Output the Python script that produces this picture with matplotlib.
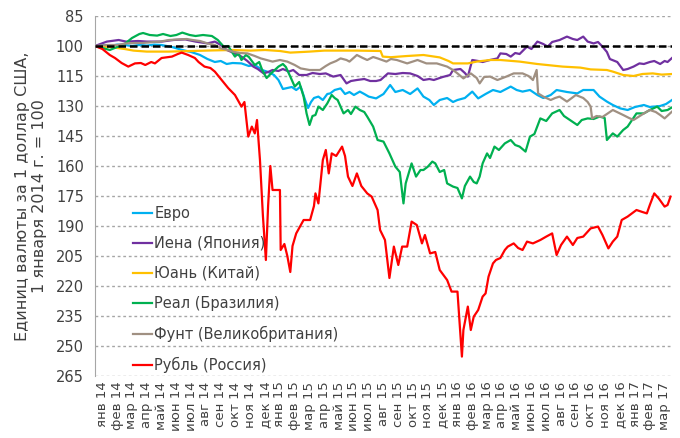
import matplotlib
matplotlib.use("Agg")
import matplotlib.pyplot as plt

# month positions (months since 1 Jan 2014) and index values, 1 Jan 2014 = 100
euro_t = [0, 0.5, 1, 1.5, 2, 2.5, 3, 3.5, 4, 4.5, 5.2, 5.9, 6.5, 7.1, 7.6, 8.1, 8.5, 8.9, 9.3, 9.9,
          10.4, 10.8, 11.3, 11.7, 12.1, 12.4, 12.7, 13.0, 13.3, 13.6, 13.9, 14.2, 14.4, 14.6, 14.8,
          15.1, 15.4, 15.7, 15.9, 16.2, 16.6, 16.9, 17.2, 17.5, 17.9, 18.2, 18.5, 19.0, 19.5, 19.95,
          20.3, 20.8, 21.3, 21.8, 22.2, 22.6, 22.9, 23.3, 23.8, 24.2, 24.5, 25.0, 25.5, 25.9, 26.4,
          26.9, 27.4, 28.1, 28.5, 28.9, 29.4, 29.9, 30.3, 30.8, 31.2, 31.9, 32.6, 33.0, 33.7, 34.1,
          34.6, 35.0, 35.5, 36.0, 36.5, 37.1, 37.5, 38.2, 38.6, 39]
euro_v = [100, 99.5, 100, 99.3, 99.5, 100, 99.5, 99.8, 99.3, 99.5, 100.5, 102, 103, 104.5, 106.5,
          108, 107.5, 109, 108.5, 108.7, 110, 109.5, 112, 113, 114.5, 117, 121.5, 121, 120.5, 122,
          120.3, 127, 131, 128, 126, 125.3, 127, 124, 123.7, 122, 121.2, 124, 123, 124.5, 122.8, 124,
          125.3, 126.2, 124, 119.5, 123, 122, 124, 121.2, 125.3, 127, 129.5, 127, 126, 128, 127, 126,
          122.8, 126.2, 124, 122, 123, 120.3, 122, 122.8, 122, 124.5, 126, 124.5, 122, 123, 123.7,
          122, 122, 125.3, 127.8, 129.5, 131.2, 132, 130.5, 129.5, 130.5, 130, 129, 127]

yen_t = [0, 0.8, 1.6, 2.1, 2.9, 3.5, 4.5, 5.3, 6.1, 6.8, 7.6, 8.1, 8.5, 8.9, 9.4, 9.9, 10.3, 10.7,
         11.0, 11.4, 11.7, 12.0, 12.4, 12.7, 13.1, 13.4, 13.8, 14.3, 14.7, 15.2, 15.6, 16.1, 16.6,
         17.0, 17.3, 17.7, 18.2, 18.6, 19.0, 19.3, 19.8, 20.3, 20.8, 21.3, 21.8, 22.2, 22.6, 22.9,
         23.5, 24.0, 24.2, 24.7, 25.0, 25.2, 25.5, 25.9, 26.2, 26.7, 27.2, 27.4, 27.8, 28.1, 28.4,
         28.7, 29.2, 29.5, 29.9, 30.3, 30.6, 30.9, 31.4, 31.9, 32.3, 32.6, 33.0, 33.3, 33.7, 34.0,
         34.3, 34.6, 34.8, 35.3, 35.7, 36.0, 36.4, 36.8, 37.1, 37.5, 37.8, 38.2, 38.5, 38.7, 39]
yen_v = [100, 97.8, 97, 97.8, 97.5, 97.8, 97.8, 97, 96.7, 97.8, 98.7, 97.8, 99.5, 102, 103.5, 105.3,
         107.5, 110.3, 111.5, 113.7, 113, 112, 112.5, 111.5, 112.8, 112, 114.5, 114.5, 113.5, 114,
         113.7, 115.3, 114.5, 118.7, 117.5, 117, 116.5, 117.5, 117.5, 117, 113.7, 114, 113.5, 113.7,
         115, 117, 116.5, 117, 115.5, 114.5, 112, 111.5, 113.5, 115.3, 107, 107.5, 108, 107, 106.2,
         103.7, 104, 105.3, 103.5, 104, 100.3, 101.5, 97.8, 99, 100.3, 98, 97, 95.3, 96.5, 97, 95.3,
         97.8, 98.7, 98, 100.3, 103, 106.5, 108, 112, 111.5, 110.3, 108.7, 109, 108, 107.5, 109,
         107.5, 108, 106]

yuan_t = [0, 1, 2, 2.6, 3.5, 5, 6.5, 8, 9.3, 10.5, 11.5, 12.5, 13.2, 14.0, 14.5, 15.5, 16.5, 17.7,
          18.5, 19.3, 19.45, 20.0, 21.1, 22.2, 23.3, 23.9, 24.2, 25.2, 25.8, 26.7, 27.4, 28.7, 29.9,
          31.6, 32.8, 33.5, 34.6, 35.0, 35.7, 36.4, 37.0, 37.7, 38.3, 39]
yuan_v = [100, 100.5, 101.5, 102.3, 102.8, 102.8, 102.5, 102.2, 102, 102.3, 102, 102.5, 103.3, 103,
          102.8, 102.3, 102.3, 102.3, 102.4, 102.5, 105.3, 105.6, 105, 104.5, 105.7, 107.5, 108.7,
          108.7, 107.8, 107, 107, 107.8, 109, 110.3, 110.8, 111.7, 112, 112.8, 114.5, 115, 114,
          113.7, 114.3, 114]

real_t = [0, 0.5, 1.0, 1.5, 2.0, 2.5, 3.0, 3.25, 3.7, 4.2, 4.6, 5.1, 5.5, 5.9, 6.4, 6.8, 7.3, 7.9,
          8.3, 8.7, 9.0, 9.46, 9.7, 9.9, 10.2, 10.4, 10.8, 11.1, 11.3, 11.6, 11.9, 12.4, 12.7, 12.9,
          13.2, 13.5, 13.8, 14.1, 14.3, 14.5, 14.7, 14.9, 15.1, 15.4, 15.7, 16.0, 16.2, 16.4, 16.8,
          17.1, 17.3, 17.6, 17.9, 18.2, 18.4, 18.8, 19.1, 19.5, 19.9, 20.3, 20.6, 20.85, 21.0, 21.4,
          21.7, 22.0, 22.2, 22.5, 22.8, 23.0, 23.3, 23.6, 23.8, 24.2, 24.5, 24.8, 25.0, 25.35, 25.6,
          25.8, 26.0, 26.2, 26.5, 26.7, 27.0, 27.3, 27.7, 28.1, 28.4, 28.7, 29.1, 29.4, 29.7, 30.1,
          30.5, 30.9, 31.4, 31.7, 32.1, 32.6, 32.9, 33.3, 33.7, 34.1, 34.45, 34.6, 35.0, 35.3, 35.7,
          36.0, 36.3, 36.6, 37.1, 37.5, 38.0, 38.3, 38.7, 39]
real_v = [100, 101, 102, 100.5, 99, 96, 94, 93.5, 94.5, 94.8, 94, 95, 94.5, 93.3, 94.5, 95, 94.5, 95,
          97, 100.3, 100, 105.3, 103.5, 107, 104.5, 105.5, 109.5, 108, 112, 116, 113.7, 110.3, 109,
          110.5, 115.3, 120.3, 118, 125.3, 133.7, 139.5, 135, 134.5, 130.3, 132, 128.7, 124.5, 126,
          127, 133.7, 132, 134, 130.3, 132, 133, 135.3, 140.3, 147, 147.8, 153.7, 160.3, 163, 178.7,
          168.7, 158.7, 165.3, 162, 162, 160.3, 157.8, 158.7, 163, 162, 168.7, 170.3, 171, 176.2, 170,
          165.3, 168, 168.7, 165.3, 158.7, 153.7, 156, 150.3, 152, 148.7, 147, 149.5, 150.3, 152.8,
          145.3, 144, 136.2, 137.5, 133.7, 132, 135, 137, 139.5, 137, 136.2, 136.5, 135.3, 136, 147,
          143.7, 145.3, 142, 140.3, 137, 133.7, 133.7, 132, 130.3, 132.5, 132, 130.7]

pound_t = [0, 0.8, 1.5, 2.1, 2.7, 3.2, 4.0, 4.4, 5.0, 5.7, 6.2, 6.6, 7.1, 7.6, 8.1, 8.5, 9.0, 9.3,
           9.8, 10.3, 10.8, 11.2, 11.6, 12.0, 12.5, 13.0, 13.5, 13.9, 14.5, 15.2, 15.6, 15.9, 16.3,
           16.6, 17.0, 17.2, 17.7, 18.1, 18.4, 18.8, 19.1, 19.7, 20.0, 20.4, 21.1, 21.8, 22.4, 23.1,
           23.8, 24.2, 24.5, 24.9, 25.4, 25.8, 26.0, 26.3, 26.7, 27.2, 27.8, 28.3, 28.9, 29.3, 29.6,
           29.85, 29.95, 30.3, 30.8, 31.1, 31.4, 31.9, 32.5, 33.0, 33.3, 33.5, 33.6, 33.9, 34.3, 35.0,
           35.7, 36.1, 36.4, 37.1, 37.5, 37.9, 38.2, 38.5, 39]
pound_v = [100, 99.5, 99.5, 98.7, 98.5, 98.5, 98, 97.8, 97, 96.7, 96.5, 97, 97.5, 98.7, 99.5, 101.2,
           102, 102.8, 103.5, 103.7, 105, 106.2, 107, 107.8, 107, 107.8, 109.5, 111.2, 112, 112, 110,
           108.7, 107.5, 106.2, 107, 107.8, 104.5, 106, 107, 105.5, 106.2, 107.8, 106.5, 107, 108.7,
           107, 108.7, 108.7, 110.3, 112, 113.7, 116.2, 113.7, 116, 118.7, 115.5, 115.3, 117, 115.3,
           113.7, 113.7, 115, 117, 112, 123.7, 125.3, 127, 126, 125.3, 127.8, 124.5, 126, 128, 130.3,
           136.2, 135, 135.5, 132, 134.5, 136, 137, 133.7, 132, 133, 134.5, 136.2, 132.8]

ruble_t = [0, 0.5, 1.0, 1.35, 1.8, 2.25, 2.7, 3.1, 3.4, 3.8, 4.05, 4.5, 5.2, 5.6, 5.86, 6.3, 6.75,
           7.0, 7.4, 7.8, 8.1, 8.56, 9.0, 9.46, 9.9, 10.1, 10.36, 10.6, 10.8, 10.95, 11.15, 11.35,
           11.55, 11.7, 11.85, 12.0, 12.5, 12.55, 12.8, 13.0, 13.2, 13.35, 13.6, 14.1, 14.54, 14.8,
           14.9, 15.1, 15.4, 15.6, 15.8, 16.0, 16.3, 16.7, 16.9, 17.1, 17.4, 17.7, 18.0, 18.4, 18.7,
           19.1, 19.27, 19.6, 19.9, 20.2, 20.5, 20.76, 21.1, 21.4, 21.75, 22.1, 22.3, 22.65, 23.0,
           23.3, 23.8, 24.1, 24.5, 24.6, 24.8, 24.9, 25.2, 25.4, 25.6, 25.9, 26.2, 26.4, 26.6, 26.9,
           27.1, 27.4, 27.7, 27.9, 28.3, 28.6, 28.9, 29.2, 29.6, 30.1, 30.5, 30.9, 31.2, 31.5, 31.9,
           32.3, 32.6, 33.0, 33.5, 34.0, 34.3, 34.7, 35.0, 35.3, 35.6, 36.0, 36.6, 37.0, 37.3, 37.5,
           37.8, 38.1, 38.5, 38.7, 38.9]
ruble_v = [100, 101.5, 104.5, 106, 108.5, 110.3, 108.7, 108.5, 109.5, 108, 108.7, 106, 105.3, 104,
           103.3, 104.5, 106, 108, 110.3, 111, 112.8, 117, 121, 124.5, 130.3, 128, 145.3, 140.3, 143.7,
           137, 157, 185, 207, 180, 160, 172, 172, 202, 199, 205, 213, 200, 193.7, 187, 187, 180, 173.7,
           178.7, 157, 152, 163.7, 153.7, 155, 150.3, 155, 165.3, 170, 163.7, 170, 173.7, 175.3, 182,
           192, 197, 216, 200.3, 209.5, 200.3, 200.3, 187.8, 189.5, 198.7, 194.5, 203.7, 203, 212, 217,
           222.8, 222.8, 233.7, 255.3, 242, 230.3, 242, 235.3, 232, 225.3, 223.7, 215.3, 208.7, 207,
           206, 202, 200.3, 198.7, 201, 202, 197.8, 198.7, 197, 195.3, 193.7, 204.5, 199.5, 195.3,
           199.5, 196, 195.3, 191.2, 190.3, 194.5, 201.2, 197.8, 195.3, 187, 185.3, 182, 183, 183.7,
           179.5, 173.7, 176.2, 180.3, 179.5, 175.3]

month_names = ["янв", "фев", "мар", "апр", "май", "июн", "июл", "авг", "сен", "окт", "ноя", "дек"]
tick_labels = [f"{month_names[i % 12]} {14 + i // 12}" for i in range(39)]

series = [
    ("Евро", euro_t, euro_v, "#00B0F0"),
    ("Иена (Япония)", yen_t, yen_v, "#7030A0"),
    ("Юань (Китай)", yuan_t, yuan_v, "#FFC000"),
    ("Реал (Бразилия)", real_t, real_v, "#00B050"),
    ("Фунт (Великобритания)", pound_t, pound_v, "#A09082"),
    ("Рубль (Россия)", ruble_t, ruble_v, "#FF0000"),
]

text_color = "#404040"
fig = plt.figure(figsize=(6.8, 4.38), dpi=100)
ax = fig.add_axes([95 / 680, 1 - 376 / 438, 577 / 680, 360 / 438])

for name, t, v, color in series:
    ax.plot(t, v, color=color, lw=1.6, label=name, solid_joinstyle="round")
ax.axhline(100, color="black", lw=1.8, dashes=(3, 1.6), zorder=5)

ax.set_xlim(0, 39)
ax.set_ylim(265, 85)
ax.set_yticks(range(85, 266, 15))
ax.set_xticks([i + 0.5 for i in range(39)])
ax.set_xticklabels(tick_labels, rotation=90, fontsize=9.5, color=text_color)
ax.tick_params(axis="x", length=0, pad=4)
ax.tick_params(axis="y", length=0, pad=8, labelsize=10.5, labelcolor=text_color)
ax.yaxis.grid(True, color="#A6A6A6", lw=1, dashes=(2, 2))
ax.set_axisbelow(True)
for side in ("top", "right", "bottom"):
    ax.spines[side].set_visible(False)
ax.spines["left"].set_color("#A6A6A6")

ax.set_ylabel("Единиц валюты за 1 доллар США,\n1 января 2014 г. = 100",
              fontsize=11.5, color=text_color, labelpad=6)

ax.legend(loc="upper left", bbox_to_anchor=(0.066, 0.472), frameon=False, fontsize=10.5,
          handlelength=1.3, handletextpad=0.15, labelspacing=1.02, borderpad=0,
          borderaxespad=0, labelcolor=text_color)

fig.savefig("out.png", dpi=100)
